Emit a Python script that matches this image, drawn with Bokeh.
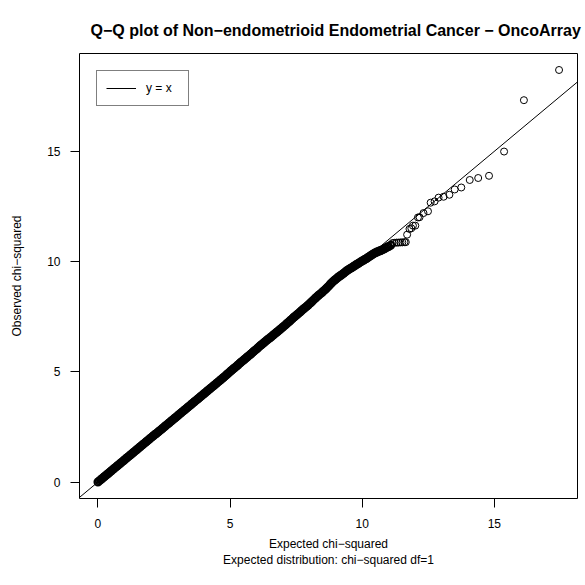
from bokeh.plotting import figure
from bokeh.models import Range1d, FixedTicker, Legend, LegendItem, Title
from bokeh.embed import file_html
from bokeh.resources import INLINE

# Expected chi-squared quantiles (x) and observed chi-squared (y)
expected = [
    0.00, 0.05, 0.10, 0.15, 0.20, 0.25, 0.30, 0.35, 0.40, 0.45,
    0.50, 0.55, 0.60, 0.65, 0.70, 0.75, 0.80, 0.85, 0.90, 0.95,
    1.00, 1.05, 1.10, 1.15, 1.20, 1.25, 1.30, 1.35, 1.40, 1.45,
    1.50, 1.55, 1.60, 1.65, 1.70, 1.75, 1.80, 1.85, 1.90, 1.95,
    2.00, 2.05, 2.10, 2.15, 2.20, 2.25, 2.30, 2.35, 2.40, 2.45,
    2.50, 2.55, 2.60, 2.65, 2.70, 2.75, 2.80, 2.85, 2.90, 2.95,
    3.00, 3.05, 3.10, 3.15, 3.20, 3.25, 3.30, 3.35, 3.40, 3.45,
    3.50, 3.55, 3.60, 3.65, 3.70, 3.75, 3.80, 3.85, 3.90, 3.95,
    4.00, 4.05, 4.10, 4.15, 4.20, 4.25, 4.30, 4.35, 4.40, 4.45,
    4.50, 4.55, 4.60, 4.65, 4.70, 4.75, 4.80, 4.85, 4.90, 4.95,
    5.00, 5.05, 5.10, 5.15, 5.20, 5.25, 5.30, 5.35, 5.40, 5.45,
    5.50, 5.55, 5.60, 5.65, 5.70, 5.75, 5.80, 5.85, 5.90, 5.95,
    6.00, 6.05, 6.10, 6.15, 6.20, 6.25, 6.30, 6.35, 6.40, 6.45,
    6.50, 6.55, 6.60, 6.65, 6.70, 6.75, 6.80, 6.85, 6.90, 6.95,
    7.00, 7.05, 7.10, 7.15, 7.20, 7.25, 7.30, 7.35, 7.40, 7.45,
    7.50, 7.55, 7.60, 7.65, 7.70, 7.75, 7.80, 7.85, 7.90, 7.95,
    8.00, 8.05, 8.10, 8.15, 8.20, 8.25, 8.30, 8.35, 8.40, 8.45,
    8.50, 8.55, 8.60, 8.65, 8.70, 8.75, 8.80, 8.85, 8.90, 8.95,
    9.00, 9.05, 9.10, 9.15, 9.20, 9.25, 9.30, 9.35, 9.40, 9.45,
    9.50, 9.55, 9.60, 9.65, 9.70, 9.75, 9.80, 9.85, 9.90, 9.95,
    10.00, 10.05, 10.10, 10.15, 10.20, 10.25, 10.30, 10.35, 10.40, 10.45,
    10.50, 10.55, 10.60, 10.65, 10.70, 10.75, 10.80, 10.85, 10.90, 10.95,
    11.00, 11.08,
    11.15, 11.22, 11.30, 11.37, 11.45, 11.52, 11.60, 11.65,
    11.70, 11.79, 11.86, 11.92, 12.01, 12.11, 12.17, 12.32, 12.49, 12.59,
    12.74, 12.89, 13.08, 13.30, 13.50, 13.75, 14.07, 14.39, 14.80, 15.37,
    16.12, 17.45,
]
observed = [
    0.00, 0.05, 0.10, 0.15, 0.20, 0.25, 0.30, 0.35, 0.40, 0.45,
    0.50, 0.55, 0.60, 0.65, 0.70, 0.75, 0.80, 0.85, 0.90, 0.95,
    1.00, 1.05, 1.10, 1.15, 1.20, 1.25, 1.30, 1.35, 1.40, 1.45,
    1.50, 1.55, 1.60, 1.65, 1.70, 1.75, 1.80, 1.85, 1.90, 1.95,
    2.00, 2.05, 2.10, 2.15, 2.19, 2.24, 2.29, 2.34, 2.39, 2.44,
    2.49, 2.54, 2.59, 2.64, 2.69, 2.74, 2.79, 2.84, 2.89, 2.94,
    2.99, 3.04, 3.09, 3.14, 3.19, 3.24, 3.29, 3.34, 3.39, 3.44,
    3.49, 3.54, 3.59, 3.64, 3.69, 3.74, 3.79, 3.84, 3.89, 3.94,
    3.99, 4.04, 4.09, 4.14, 4.19, 4.24, 4.29, 4.34, 4.39, 4.44,
    4.49, 4.54, 4.59, 4.64, 4.69, 4.74, 4.79, 4.85, 4.90, 4.95,
    5.01, 5.06, 5.11, 5.16, 5.21, 5.26, 5.31, 5.37, 5.42, 5.47,
    5.52, 5.57, 5.62, 5.67, 5.72, 5.77, 5.82, 5.88, 5.93, 5.98,
    6.03, 6.08, 6.14, 6.19, 6.24, 6.29, 6.34, 6.39, 6.44, 6.49,
    6.53, 6.58, 6.63, 6.68, 6.73, 6.78, 6.83, 6.88, 6.93, 6.98,
    7.03, 7.08, 7.13, 7.19, 7.24, 7.29, 7.35, 7.40, 7.46, 7.51,
    7.56, 7.61, 7.66, 7.71, 7.77, 7.82, 7.87, 7.92, 7.97, 8.02,
    8.08, 8.13, 8.19, 8.25, 8.31, 8.36, 8.42, 8.47, 8.52, 8.57,
    8.62, 8.68, 8.73, 8.79, 8.85, 8.91, 8.98, 9.04, 9.10, 9.15,
    9.20, 9.25, 9.30, 9.34, 9.38, 9.43, 9.47, 9.52, 9.57, 9.61,
    9.65, 9.69, 9.72, 9.76, 9.80, 9.84, 9.88, 9.91, 9.95, 9.99,
    10.03, 10.06, 10.10, 10.13, 10.17, 10.21, 10.25, 10.29, 10.33, 10.37,
    10.40, 10.43, 10.45, 10.48, 10.50, 10.53, 10.55, 10.59, 10.62, 10.66,
    10.68, 10.74,
    10.84, 10.85, 10.86, 10.86, 10.87, 10.87, 10.88, 10.88,
    11.22, 11.48, 11.51, 11.63, 11.63, 12.00, 12.01, 12.20, 12.28, 12.67,
    12.73, 12.90, 12.94, 13.03, 13.27, 13.36, 13.70, 13.79, 13.89, 14.99,
    17.32, 18.69,
]
x_ticks = [0, 5, 10, 15]
y_ticks = [0, 5, 10, 15]

title_text = "Q\u2212Q plot of Non\u2212endometrioid Endometrial Cancer \u2212 OncoArray"
x_label = "Expected chi\u2212squared\nExpected distribution: chi\u2212squared df=1"
y_label = "Observed chi\u2212squared"
legend_label = "y = x"

FONT = "Liberation Sans"
N_DENSE = 222  # points in the overplotted (dense) part of the curve

def padded(vals):
    lo, hi = min(vals), max(vals)
    d = (hi - lo) * 0.04
    return Range1d(lo - d, hi + d)

xr = padded(expected)
yr = padded(observed)

p = figure(width=585, height=585, output_backend="svg", toolbar_location=None,
           x_range=xr, y_range=yr,
           min_border_left=79, min_border_right=8, min_border_top=53, min_border_bottom=87)

p.background_fill_color = "white"
p.border_fill_color = "white"
p.outline_line_color = "black"
p.outline_line_width = 1
p.xgrid.visible = False
p.ygrid.visible = False

p.title = Title(text=title_text, align="left", offset=11, text_font=FONT,
                text_font_size="16px", text_font_style="bold", text_color="black",
                standoff=29)

for ax, ticks in ((p.xaxis[0], x_ticks), (p.yaxis[0], y_ticks)):
    ax.ticker = FixedTicker(ticks=ticks)
    ax.axis_line_color = None
    ax.major_tick_in = 0
    ax.major_tick_out = 9
    ax.minor_tick_line_color = None
    ax.major_tick_line_color = "black"
    ax.major_label_text_font = FONT
    ax.major_label_text_font_size = "12px"
    ax.major_label_text_color = "black"
    ax.axis_label_text_font = FONT
    ax.axis_label_text_font_size = "12px"
    ax.axis_label_text_font_style = "normal"
    ax.axis_label_text_color = "black"

p.xaxis[0].axis_label = x_label
p.xaxis[0].major_label_standoff = 11
p.xaxis[0].axis_label_standoff = 6
p.yaxis[0].axis_label = y_label
p.yaxis[0].major_label_standoff = 10
p.yaxis[0].major_label_orientation = "horizontal"
p.yaxis[0].axis_label_standoff = 20

# reference line y = x across the whole axis range (clipped by the frame)
ref_line = p.line([xr.start, xr.end], [xr.start, xr.end], line_color="black", line_width=1)

# dense, heavily overplotted part of the curve
p.scatter(expected[:N_DENSE], observed[:N_DENSE], marker="circle", size=7, fill_color=None,
          line_color="black", line_width=2)
# sparse upper tail
p.scatter(expected[N_DENSE:], observed[N_DENSE:], marker="circle", size=7, fill_color=None,
          line_color="black", line_width=1)

legend = Legend(items=[LegendItem(label=legend_label, renderers=[ref_line])],
                location="top_left", margin=17, padding=9, spacing=0,
                glyph_width=30, glyph_height=16, label_height=16, label_standoff=10,
                label_width=33,
                border_line_color="black", border_line_width=1,
                background_fill_color="white", background_fill_alpha=1,
                label_text_font=FONT, label_text_font_size="12px", label_text_color="black")
p.add_layout(legend)

open("out.html", "w").write(file_html(p, INLINE))
